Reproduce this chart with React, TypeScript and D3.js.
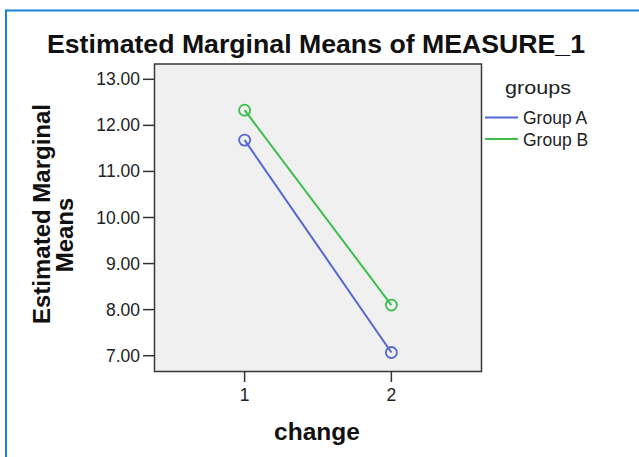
import React from "react";
import * as d3 from "d3";

const categories = ["1", "2"];
const groupA = [11.68, 7.07];
const groupB = [12.33, 8.1];
const yTicks = [7, 8, 9, 10, 11, 12, 13];
const seriesNames = ["Group A", "Group B"];
const seriesColors = ["#5666d2", "#3cbf4a"];

const W = 639;
const H = 457;
const plotL = 154.5;
const plotR = 481.5;
const plotT = 64;
const plotB = 371.5;

export default function App() {
  const x = d3.scalePoint<string>().domain(categories).range([plotL, plotR]).padding(0.614);
  const y = d3.scaleLinear().domain([7, 13]).range([355.7, 79.3]);
  const series = [groupA, groupB];
  const line = d3
    .line<number>()
    .x((_, i) => x(categories[i]) as number)
    .y((d) => y(d));
  const font = "'Liberation Sans', Arial, sans-serif";

  return (
    <svg
      width={W}
      height={H}
      style={{ position: "absolute", left: 0, top: 0, background: "#fff" }}
      fontFamily={font}
    >
      <path d={`M6,${H + 5} V10.5 H${W + 5}`} fill="none" stroke="#1a7fd9" strokeWidth={2} />
      <text x={316} y={53} textAnchor="middle" fontSize={26.5} fontWeight="bold" fill="#111" textLength={538} lengthAdjust="spacingAndGlyphs">
        Estimated Marginal Means of MEASURE_1
      </text>
      <rect x={plotL} y={plotT} width={plotR - plotL} height={plotB - plotT} fill="#f0f0f0" stroke="#3a3a3a" strokeWidth={1.5} />
      {yTicks.map((t) => (
        <g key={t}>
          <line x1={143} x2={plotL} y1={y(t)} y2={y(t)} stroke="#333" strokeWidth={1.5} />
          <text x={140} y={y(t) + 6} textAnchor="end" fontSize={17.5} fill="#222">
            {t.toFixed(2)}
          </text>
        </g>
      ))}
      {categories.map((c) => (
        <g key={c}>
          <line x1={x(c)} x2={x(c)} y1={plotB} y2={382} stroke="#333" strokeWidth={1.5} />
          <text x={x(c)} y={401} textAnchor="middle" fontSize={17.5} fill="#222">
            {c}
          </text>
        </g>
      ))}
      <text x={317} y={440} textAnchor="middle" fontSize={24.5} fontWeight="bold" fill="#111">
        change
      </text>
      <g transform="translate(50,214) rotate(-90)">
        <text x={0} y={0} textAnchor="middle" fontSize={24} fontWeight="bold" fill="#111">
          Estimated Marginal
        </text>
      </g>
      <g transform="translate(73,235) rotate(-90)">
        <text x={0} y={0} textAnchor="middle" fontSize={24} fontWeight="bold" fill="#111">
          Means
        </text>
      </g>
      {series.map((s, si) => (
        <g key={si}>
          <path d={line(s) || ""} fill="none" stroke={seriesColors[si]} strokeWidth={2} />
          {s.map((v, i) => (
            <circle key={i} cx={x(categories[i])} cy={y(v)} r={5.5} fill="none" stroke={seriesColors[si]} strokeWidth={1.8} />
          ))}
        </g>
      ))}
      <text x={505} y={94} fontSize={19} fill="#222" textLength={66} lengthAdjust="spacingAndGlyphs">
        groups
      </text>
      {seriesNames.map((n, i) => (
        <g key={n}>
          <line x1={485} x2={518} y1={117.5 + i * 21.5} y2={117.5 + i * 21.5} stroke={seriesColors[i]} strokeWidth={2} />
          <text x={523} y={124 + i * 21.5} fontSize={17.5} fill="#222">
            {n}
          </text>
        </g>
      ))}
    </svg>
  );
}
